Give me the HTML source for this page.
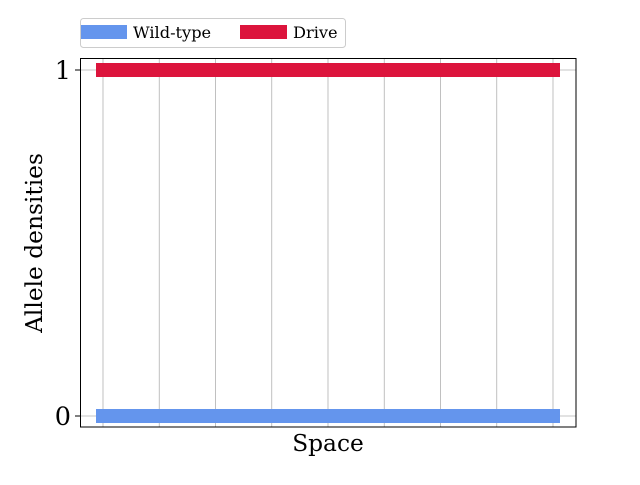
<!DOCTYPE html>
<html><head><meta charset="utf-8"><style>
body{margin:0;background:#fff;}
svg{font-family:"DejaVu Serif","Liberation Serif",serif;}
</style></head><body>
<svg id="chart" width="640" height="480" xmlns="http://www.w3.org/2000/svg">
<rect x="80" y="58" width="496" height="369" fill="#fff"/>
<g id="grid"></g>
<g id="series"></g>
<rect x="80.5" y="58.5" width="495.5" height="368.5" fill="none" stroke="#000" stroke-width="1"/>
<g id="yticks"></g>
<text x="328" y="451" font-size="23.3" text-anchor="middle">Space</text>
<text transform="translate(42,243) rotate(-90)" font-size="23.3" text-anchor="middle">Allele densities</text>
<g>
<rect x="80.5" y="18.5" width="265" height="29" rx="3" fill="#fff" stroke="#ccc"/>
<rect x="81" y="25" width="46" height="14" fill="#6495ed"/>
<text x="133" y="38" font-size="16.2">Wild-type</text>
<rect x="240" y="25" width="47" height="14" fill="#dc143c"/>
<text x="293" y="38" font-size="16.2">Drive</text>
</g>
</svg>
<script>
const xCategories=[0,1,2,3,4,5,6,7,8];
const wildType=[0,0,0,0,0,0,0,0,0];
const drive=[1,1,1,1,1,1,1,1,1];
const yTickValues=[0,1];
const yTickLabels=["0","1"];
const ns="http://www.w3.org/2000/svg";
function xs(v){return 103+(v-0)*(553-103)/8;}
function ys(v){return 416-v*(416-70);}
const grid=document.getElementById('grid');
xCategories.forEach(c=>{const l=document.createElementNS(ns,'line');
l.setAttribute('x1',xs(c));l.setAttribute('x2',xs(c));l.setAttribute('y1',58);l.setAttribute('y2',427);
l.setAttribute('stroke','#b0b0b0');l.setAttribute('stroke-width','0.8');


grid.appendChild(l);});
const yt=document.getElementById('yticks');
yTickValues.forEach((v,i)=>{const l=document.createElementNS(ns,'line');
l.setAttribute('x1',80);l.setAttribute('x2',576);l.setAttribute('y1',ys(v));l.setAttribute('y2',ys(v));
l.setAttribute('stroke','#b0b0b0');l.setAttribute('stroke-width','0.8');


grid.appendChild(l);
const t=document.createElementNS(ns,'line');
t.setAttribute('x1',75);t.setAttribute('x2',80);t.setAttribute('y1',ys(v));t.setAttribute('y2',ys(v));t.setAttribute('stroke','#000');


yt.appendChild(t);
const tx=document.createElementNS(ns,'text');
tx.setAttribute('x',71);tx.setAttribute('y',ys(v)+9);tx.setAttribute('font-size','25.5');tx.setAttribute('text-anchor','end');
tx.textContent=yTickLabels[i];


yt.appendChild(tx);});
const sg=document.getElementById('series');
function drawSeries(vals,color,name){const p=document.createElementNS(ns,'polyline');
p.setAttribute('points',vals.map((v,i)=>xs(xCategories[i])+','+ys(v)).join(' '));
p.setAttribute('fill','none');p.setAttribute('stroke',color);p.setAttribute('stroke-width','14');p.setAttribute('stroke-linecap','square');


sg.appendChild(p);}
drawSeries(wildType,'#6495ed','wild-type-line');
drawSeries(drive,'#dc143c','drive-line');
</script>
</body></html>
